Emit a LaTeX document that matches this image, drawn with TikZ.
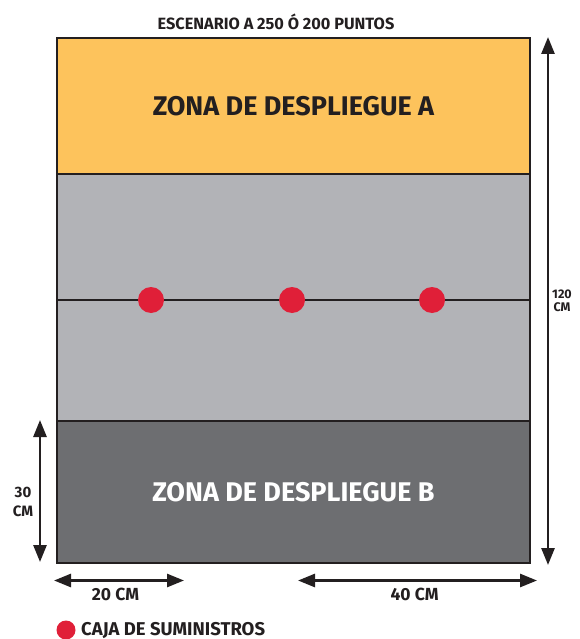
\documentclass[tikz,border=0pt]{standalone}
\usepackage{fontspec}
\setmainfont{Fira Sans}
\usetikzlibrary{arrows.meta}
\definecolor{zonaA}{RGB}{253,195,92}
\definecolor{medio}{RGB}{178,179,183}
\definecolor{zonaB}{RGB}{109,110,113}
\definecolor{caja}{RGB}{224,31,56}
\definecolor{tinta}{RGB}{35,31,32}
\tikzset{
  zona/.style={draw=tinta, line width=1.9pt, minimum width=473pt, inner sep=0pt, anchor=north west},
  zonatxt/.style={font=\bfseries\fontsize{27}{27}\selectfont, text=white},
  cajadot/.style={circle, fill=caja, minimum size=26pt, inner sep=0pt},
  medida/.style={line width=2.7pt, draw=tinta, {Triangle[length=17pt,width=13pt]}-{Triangle[length=17pt,width=13pt]}},
  lbl/.style={font=\bfseries\fontsize{17.5}{17.5}\selectfont, text=tinta, align=center, inner sep=0pt}
}
\begin{document}
\begin{tikzpicture}[x=1pt,y=-1pt]
\fill[white] (0,0) rectangle (579,639);
\useasboundingbox (0,0) rectangle (579,639);
% zones
\node[zona, fill=zonaA, minimum height=136pt] (za) at (56,37) {};
\node[zona, fill=medio, minimum height=247pt] (zm) at (56,173) {};
\node[zona, fill=zonaB, minimum height=142pt] (zb) at (56,420) {};
\node[zonatxt, text=tinta] at (za.center) {ZONA DE DESPLIEGUE A};
\node[zonatxt] at (zb.center) {ZONA DE DESPLIEGUE B};
% middle line
\draw[line width=2.4pt, draw=tinta] (zm.west |- 0,300) -- (zm.east |- 0,300);
\node[cajadot] (c1) at (151,300) {};
\node[cajadot] (c2) at (292,300) {};
\node[cajadot] (c3) at (432,300) {};
% title
\node[font=\bfseries\fontsize{16.3}{16}\selectfont, text=tinta] (tit) at (276,22) {ESCENARIO A 250 Ó 200 PUNTOS};
% 120 cm
\coordinate (r1) at (548,37);
\coordinate (r2) at (548,565);
\draw[medida] (r1) -- (r2);
\node[lbl, font=\bfseries\fontsize{12.5}{12.5}\selectfont, anchor=west, fill=white, inner sep=1pt] (l120) at (551,301) {120\\CM};
% 30 cm
\coordinate (s1) at (40,420);
\coordinate (s2) at (40,562);
\draw[medida] (s1) -- (s2);
\node[lbl, font=\bfseries\fontsize{15}{19}\selectfont, fill=white, inner sep=1pt] (l30) at (23,502) {30\\CM};
% 20 cm
\coordinate (h1) at (54,580.5);
\coordinate (h2) at (184,580.5);
\draw[medida] (h1) -- (h2);
\node[lbl] (l20) at (115.5,594) {20 CM};
% 40 cm
\coordinate (k1) at (298,580.5);
\coordinate (k2) at (537,580.5);
\draw[medida] (k1) -- (k2);
\node[lbl] (l40) at (414.5,594) {40 CM};
% legend
\node[circle, fill=caja, minimum size=19pt, inner sep=0pt] (leg) at (66,630) {};
\node[lbl, font=\bfseries\fontsize{18.5}{18.5}\selectfont, anchor=west] (legt) at (81,630) {CAJA DE SUMINISTROS};
\end{tikzpicture}
\end{document}
